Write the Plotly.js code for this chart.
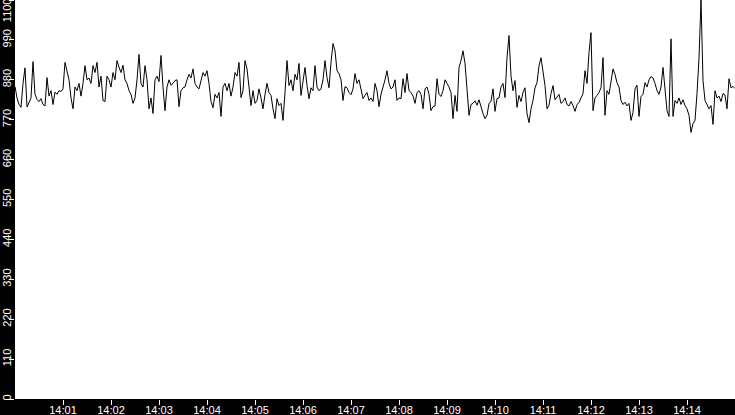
<!DOCTYPE html>
<html>
<head>
<meta charset="utf-8">
<script src="https://cdn.plot.ly/plotly-3.0.1.min.js"></script>
<style>
  html, body { margin: 0; padding: 0; background: #000; }
  #chart { width: 735px; height: 415px; }
</style>
</head>
<body>
<div id="chart"></div>
<script>
// one reading every 2.5 seconds from 14:00:00 to 14:15:00
var START = '2024-01-01 14:00:00';
var STEP_SEC = 2.5;

var values = [
    861, 830, 812, 804, 870, 913, 805, 820, 830, 930,
    840, 826, 820, 828, 812, 808, 886, 835, 850, 812,
    846, 840, 850, 848, 855, 928, 900, 880, 830, 800,
    860, 850, 870, 835, 870, 919, 880, 885, 870, 919,
    900, 928, 860, 890, 823, 820, 890, 880, 860, 900,
    880, 933, 915, 900, 920, 880, 870, 850, 840, 815,
    830, 880, 950, 870, 860, 919, 880, 800, 830, 787,
    880, 890, 875, 947, 860, 795, 860, 880, 865, 870,
    878, 880, 806, 850, 858, 860, 880, 895, 885, 910,
    870, 860, 855, 880, 900, 890, 905, 870, 820, 803,
    840, 830, 845, 779, 860, 870, 850, 870, 835, 860,
    900, 890, 928, 831,
    850, 933, 910, 860, 809, 850, 815, 823, 855, 830,
    800, 840, 870, 845, 837, 800, 773, 828, 809, 815,
    768, 845, 933, 864, 880, 850, 895, 880, 925, 837,
    878, 914, 864, 828, 858, 850, 919, 860, 850, 855,
    880, 933, 886, 858, 928, 980, 960, 905, 897, 880,
    823, 861, 858, 845, 839, 855, 897, 870, 880, 850,
    828, 837, 845, 823, 830, 820, 870, 850, 806, 840,
    858, 880, 905, 870, 855, 860, 880, 823, 830, 828,
    883, 845, 897, 850, 845, 835, 815, 845, 850, 840,
    800, 855, 860, 840, 795, 806, 808, 883, 840, 834,
    850, 880, 870, 860, 845, 773, 837, 793, 914, 933,
    960, 925, 855, 782, 812, 815, 822, 810, 825, 805,
    787, 773, 782, 815, 820, 855, 793, 828, 830, 860,
    870, 831, 941, 1002, 890, 850, 878, 804, 837, 820,
    845, 858, 787, 762, 800, 823, 858, 872, 919, 941,
    897, 864, 800, 810, 842, 864, 825, 831, 840, 815,
    820, 830, 812, 808, 820, 809, 793, 812, 817, 830,
    842, 905, 870, 955, 1010, 795, 830, 837, 845, 858,
    941, 782, 850, 840, 880, 910, 895, 872, 860, 823,
    812, 818, 808, 815, 768, 790, 855, 865, 779, 834,
    840, 872, 860, 880, 889, 885, 870, 850, 840, 860,
    914, 858, 795, 779, 993, 779, 823, 815, 830, 812,
    825, 809, 800, 782, 735, 759, 768, 842, 940, 1100,
    878, 823, 812, 800, 809, 757, 850, 830, 835, 820,
    842, 838, 800, 883, 858, 862, 856
];

var yTicks = [0, 110, 220, 330, 440, 550, 660, 770, 880, 990];
var yTopTick = [1100];
var xTickLabels = ['14:01', '14:02', '14:03', '14:04', '14:05', '14:06', '14:07',
                   '14:08', '14:09', '14:10', '14:11', '14:12', '14:13', '14:14'];
var X_END = '2024-01-01 14:15:00';

var t0 = new Date(START.replace(' ', 'T')).getTime();
function stamp(ms) {
    var d = new Date(ms);
    function p(n) { return (n < 10 ? '0' : '') + n; }
    return d.getFullYear() + '-' + p(d.getMonth() + 1) + '-' + p(d.getDate()) + ' ' +
           p(d.getHours()) + ':' + p(d.getMinutes()) + ':' + p(d.getSeconds()) + '.' +
           String(d.getMilliseconds()).padStart(3, '0');
}

var times = values.map(function (v, i) { return stamp(t0 + i * STEP_SEC * 1000); });
var xTickVals = xTickLabels.map(function (s) { return '2024-01-01 ' + s + ':00'; });

var font = { family: 'Liberation Sans, Arial, sans-serif', size: 11, color: '#ffffff' };

var trace = {
    x: times,
    y: values,
    type: 'scatter',
    mode: 'lines',
    line: { color: '#000000', width: 1 },
    hoverinfo: 'none'
};

// placeholder trace so the second y axis (only the 1100 tick) gets drawn
var topAxisTrace = {
    x: [START],
    y: [null],
    yaxis: 'y2',
    type: 'scatter',
    mode: 'lines',
    hoverinfo: 'none'
};

var yCommon = {
    range: [0, 1100],
    tickangle: -90,
    ticks: 'outside',
    ticklen: 5,
    tickcolor: '#ffffff',
    tickfont: font,
    ticklabelstandoff: -6,
    ticklabeloverflow: 'allow',
    showgrid: false,
    zeroline: false,
    showline: false,
    fixedrange: true
};

var layout = {
    width: 735,
    height: 415,
    showlegend: false,
    paper_bgcolor: '#000000',
    plot_bgcolor: '#ffffff',
    margin: { l: 15, r: 0, t: 0, b: 16, pad: 0 },
    font: font,
    xaxis: {
        type: 'date',
        range: [START, X_END],
        tickvals: xTickVals,
        ticktext: xTickLabels,
        ticks: 'outside',
        ticklen: 5,
        tickcolor: '#ffffff',
        tickfont: font,
        ticklabelstandoff: -4,
        showgrid: false,
        zeroline: false,
        showline: false,
        fixedrange: true
    },
    yaxis: Object.assign({}, yCommon, { tickvals: yTicks }),
    yaxis2: Object.assign({}, yCommon, {
        overlaying: 'y',
        anchor: 'x',
        side: 'left',
        tickvals: yTopTick,
        ticklabelshift: 12
    })
};

var config = { displayModeBar: false, staticPlot: true };

Plotly.newPlot('chart', [trace, topAxisTrace], layout, config);
</script>
</body>
</html>
